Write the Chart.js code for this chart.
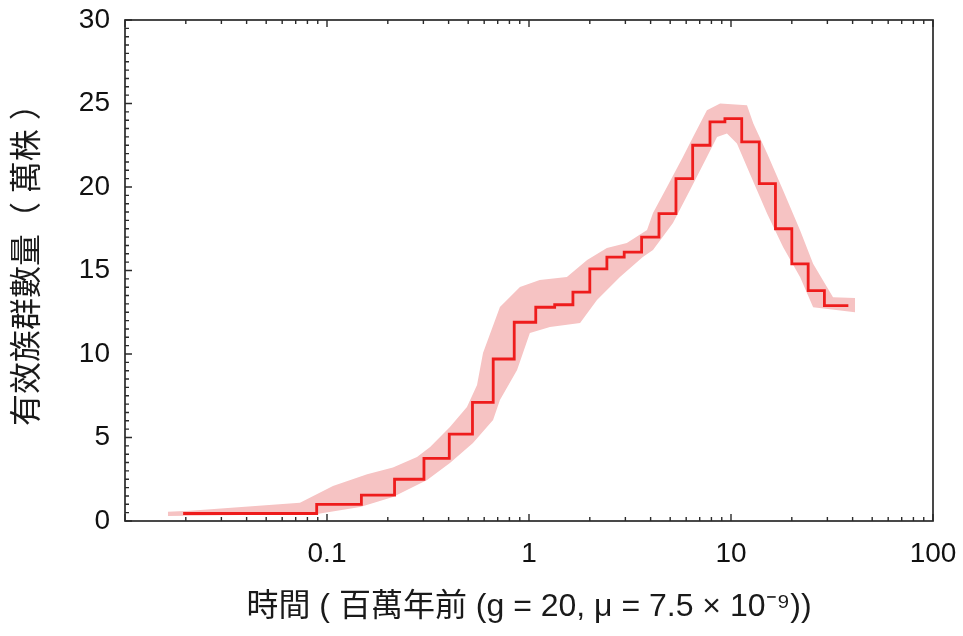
<!DOCTYPE html>
<html>
<head>
<meta charset="utf-8">
<title>PSMC</title>
<script src="https://cdn.jsdelivr.net/npm/chart.js@4.4.1/dist/chart.umd.min.js"></script>
<style>
  html, body { margin: 0; padding: 0; background: #fff; }
  #wrap { width: 963px; height: 636px; }
</style>
</head>
<body>
<div id="wrap"><canvas id="psmcChart"></canvas></div>
<script>
// Step boundaries (million years ago) and Ne level (x 10^4) of each step
const stepTimes = [0.0194, 0.0889, 0.148, 0.216, 0.302, 0.403, 0.525, 0.665, 0.845, 1.08,
  1.34, 1.65, 2.00, 2.43, 2.96, 3.61, 4.40, 5.34, 6.46, 7.87,
  9.33, 11.3, 13.8, 16.6, 20.0, 24.1, 29.0, 38.1];
const stepNe = [0.45, 1.0, 1.55, 2.5, 3.75, 5.2, 7.1, 9.7, 11.9, 12.8,
  12.95, 13.7, 15.1, 15.8, 16.1, 17.0, 18.4, 20.5, 22.5, 23.9,
  24.1, 22.7, 20.2, 17.5, 15.4, 13.8, 12.9];

// Bootstrap cloud, upper and lower envelope
const bandUpperX = [0.0163, 0.0210, 0.0735, 0.107, 0.158, 0.212, 0.279, 0.324, 0.406, 0.493,
  0.553, 0.592, 0.718, 0.902, 1.13, 1.54, 1.94, 2.43, 3.05, 3.84,
  4.11, 4.82, 5.78, 6.49, 7.60, 8.83, 12.0, 12.9, 15.1, 18.1,
  22.0, 25.5, 29.9, 32.0, 41.1];
const bandUpperY = [0.55, 0.62, 1.1, 2.1, 2.8, 3.2, 3.83, 4.43, 5.63, 6.83,
  8.14, 10.06, 12.81, 14.01, 14.43, 14.61, 15.63, 16.35, 16.65, 17.43,
  18.44, 20.0, 21.8, 23.0, 24.6, 25.0, 24.9, 23.8, 22.0, 19.8,
  17.4, 15.4, 14.0, 13.4, 13.35];
const bandLowerX = [0.0163, 0.0892, 0.146, 0.212, 0.313, 0.406, 0.528, 0.664, 0.718, 0.873,
  1.01, 1.27, 1.79, 2.17, 2.82, 3.66, 4.11, 5.16, 6.27, 7.60,
  8.53, 9.55, 10.7, 12.4, 15.1, 18.1, 22.0, 25.5, 41.1];
const bandLowerY = [0.3, 0.42, 0.84, 1.44, 2.46, 3.47, 4.67, 6.05, 7.25, 9.04,
  11.26, 11.62, 11.86, 13.23, 14.61, 15.81, 16.23, 17.84, 19.82, 21.8,
  23.0, 23.2, 22.6, 20.8, 18.4, 16.4, 14.6, 12.8, 12.5];

// Axis ticks
const xMajorTicks = [0.01, 0.1, 1, 10, 100];
const xTickLabels = [0.1, 1, 10, 100];
const yTickLabels = [0, 5, 10, 15, 20, 25, 30];

const xTitle = '時間 ( 百萬年前 (g = 20, μ = 7.5 × 10⁻⁹))';
const yTitle = '   有效族群數量（ 萬株 ）';

const FONT = "'Liberation Sans', 'Noto Sans CJK TC', sans-serif";

// minor ticks 2..9 in each decade, and every 0.5 on y
const xMinorTicks = [];
for (let d = 0; d < xMajorTicks.length - 1; d++) {
  for (let k = 2; k <= 9; k++) xMinorTicks.push(xMajorTicks[d] * k);
}
const yMinorTicks = [];
for (let v = 0.5; v < 30; v += 0.5) yMinorTicks.push(v);

// build line data (last level runs to the final boundary)
const lineData = stepTimes.map((t, i) => ({ x: t, y: stepNe[Math.min(i, stepNe.length - 1)] }));
const upperData = bandUpperX.map((t, i) => ({ x: t, y: bandUpperY[i] }));
const lowerData = bandLowerX.map((t, i) => ({ x: t, y: bandLowerY[i] }));

/**
 * Frame and inward tick marks
 */
const frameTicks = {
  id: 'frameTicks',
  afterDatasetsDraw(chart) {
    const { ctx, chartArea: a, scales: { x, y } } = chart;
    ctx.save();
    ctx.strokeStyle = '#2a2a2a';
    ctx.lineWidth = 1.7;
    ctx.strokeRect(a.left, a.top, a.right - a.left, a.bottom - a.top);

    ctx.lineWidth = 1.4;
    ctx.beginPath();
    xMinorTicks.forEach(v => {
      const px = x.getPixelForValue(v);
      ctx.moveTo(px, a.bottom); ctx.lineTo(px, a.bottom - 4);
      ctx.moveTo(px, a.top); ctx.lineTo(px, a.top + 4);
    });
    xMajorTicks.forEach(v => {
      const px = x.getPixelForValue(v);
      ctx.moveTo(px, a.bottom); ctx.lineTo(px, a.bottom - 7);
      ctx.moveTo(px, a.top); ctx.lineTo(px, a.top + 7);
    });
    yMinorTicks.forEach(v => {
      const py = y.getPixelForValue(v);
      ctx.moveTo(a.left, py); ctx.lineTo(a.left + 4, py);
    });
    yTickLabels.forEach(v => {
      const py = y.getPixelForValue(v);
      ctx.moveTo(a.left, py); ctx.lineTo(a.left + 7, py);
    });
    ctx.stroke();
    ctx.restore();
  }
};

new Chart(document.getElementById('psmcChart'), {
  type: 'line',
  data: {
    datasets: [{
      label: 'PSMC',
      data: lineData,
      borderColor: '#ee1c1c',
      borderWidth: 2.8,
      pointRadius: 0,
      stepped: 'before',
      fill: false,
      order: 0
    }, {
      label: 'bootstrap upper',
      data: upperData,
      borderColor: 'rgba(0,0,0,0)',
      borderWidth: 0,
      pointRadius: 0,
      fill: false,
      order: 2
    }, {
      label: 'bootstrap lower',
      data: lowerData,
      borderColor: 'rgba(0,0,0,0)',
      borderWidth: 0,
      backgroundColor: '#f6c3c3',
      pointRadius: 0,
      fill: 1,
      order: 1
    }]
  },
  options: {
    responsive: true,
    maintainAspectRatio: false,
    animation: false,
    layout: { padding: { left: 0, top: 20, right: 30, bottom: 0 } },
    plugins: {
      legend: { display: false },
      tooltip: { enabled: false }
    },
    scales: {
      x: {
        type: 'logarithmic',
        min: 0.01,
        max: 100,
        afterBuildTicks: scale => { scale.ticks = xMajorTicks.map(v => ({ value: v })); },
        afterFit: scale => {
          scale.height = 115;
          scale.paddingLeft = 0;
          scale.paddingRight = 0;
        },
        grid: { display: false, drawTicks: false },
        border: { display: false },
        ticks: {
          autoSkip: false,
          maxRotation: 0,
          padding: 16,
          color: '#111',
          font: { family: FONT, size: 28 },
          callback: v => (xTickLabels.includes(v) ? String(v) : '')
        },
        title: {
          display: true,
          text: xTitle,
          color: '#1a1a1a',
          font: { family: FONT, size: 32 },
          padding: { top: 0, bottom: 10 }
        }
      },
      y: {
        min: 0,
        max: 30,
        afterBuildTicks: scale => { scale.ticks = yTickLabels.map(v => ({ value: v })); },
        afterFit: scale => {
          scale.width = 125;
          scale.paddingTop = 0;
          scale.paddingBottom = 0;
        },
        grid: { display: false, drawTicks: false },
        border: { display: false },
        ticks: {
          padding: 15,
          color: '#111',
          font: { family: FONT, size: 28 }
        },
        title: {
          display: true,
          text: yTitle,
          color: '#1a1a1a',
          font: { family: FONT, size: 32 },
          padding: { top: 9, bottom: 0 }
        }
      }
    }
  },
  plugins: [frameTicks]
});
</script>
</body>
</html>
